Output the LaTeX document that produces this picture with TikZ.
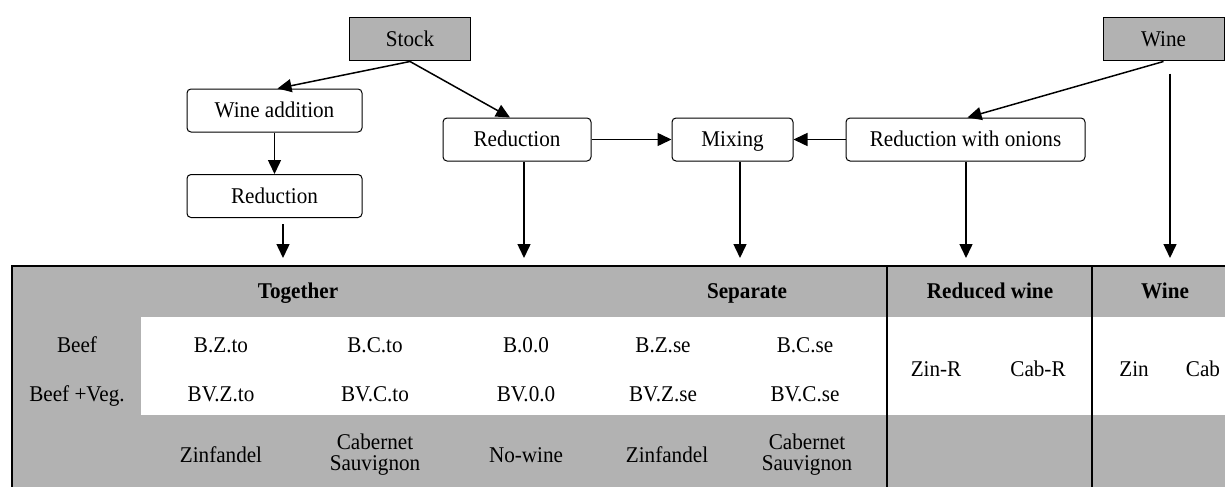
\documentclass[tikz,border=0pt]{standalone}
\usepackage{fontspec}
\setmainfont{Liberation Serif}[FakeStretch=0.94]
\usetikzlibrary{arrows.meta}
\definecolor{cellgray}{RGB}{178,178,178}

\begin{document}
\begin{tikzpicture}[x=1pt,y=-1pt,font=\fontsize{22.5}{19}\selectfont,
    srcbox/.style={draw,line width=1pt,fill=cellgray,minimum width=121pt,minimum height=43pt,inner sep=0pt,text height=17pt,text depth=3pt},
    procbox/.style={draw,line width=1pt,rounded corners=4pt,minimum height=43pt,inner sep=0pt,text height=17pt,text depth=3pt},
    cell/.style={inner sep=0pt,text height=17pt,text depth=3pt},
    cellii/.style={inner sep=0pt,align=center,font=\fontsize{22.5}{21}\selectfont},
    head/.style={cell,font=\fontsize{22.5}{19}\selectfont\bfseries},
    arr/.style={line width=1.5pt,-{Triangle[length=14pt,width=13pt]}},
    rule/.style={line width=2.2pt}]
    \useasboundingbox (0,0) rectangle (1225,487);
    \fill[cellgray] (12,266) rectangle (1225,487);
    \fill[white] (141,317) rectangle (1225,415);
    \draw[rule] (1225,266) -- (12,266) -- (12,487);
    \draw[rule] (887,266) -- (887,487);
    \draw[rule] (1092,266) -- (1092,487);

    \node[srcbox] (stock) at (410,39.5) {Stock};
    \node[srcbox] (wine) at (1163.5,39.5) {Wine};
    \node[procbox,minimum width=175pt] (wadd) at (274.5,110.5) {Wine addition};
    \node[procbox,minimum width=175pt] (redl) at (274.5,196) {Reduction};
    \node[procbox,minimum width=148pt] (redm) at (517,139.5) {Reduction};
    \node[procbox,minimum width=121pt] (mix) at (732.5,139.5) {Mixing};
    \node[procbox,minimum width=239pt] (rwo) at (965.5,139.5) {Reduction with onions};

    \coordinate (t1) at (283,258);
    \coordinate (t2) at (524,258);
    \coordinate (t3) at (740,258);
    \coordinate (t4) at (966,258);
    \coordinate (t5) at (1170,258);

    \draw[arr] (stock.south) -- ([xshift=3pt]wadd.north);
    \draw[arr] (stock.south) -- ([xshift=-7pt]redm.north);
    \draw[arr] (wadd) -- (redl);
    \draw[arr] (redm) -- (mix);
    \draw[arr] (rwo) -- (mix);
    \draw[arr] (wine.south) -- ([xshift=2pt]rwo.north);
    \draw[arr] (t1 |- redl.south) ++(0,6) -- (t1);
    \draw[arr] (t2 |- redm.south) -- (t2);
    \draw[arr] (t3 |- mix.south) -- (t3);
    \draw[arr] (t4 |- rwo.south) -- (t4);
    \draw[arr] (t5 |- wine.south) ++(0,12) -- (t5);

    \node[head] (tog) at (298,291) {Together};
    \node[head] (sep) at (747,291) {Separate};
    \node[head] (redw) at (990,291) {Reduced wine};
    \node[head] (winh) at (1165,291) {Wine};
    \node[cell] (beef) at (77,345) {Beef};
    \node[cell] (beefveg) at (77,394) {Beef +Veg.};
    \node[cell] (bzto) at (221,345) {B.Z.to};
    \node[cell] (bcto) at (375,345) {B.C.to};
    \node[cell] (boo) at (526,345) {B.0.0};
    \node[cell] (bzse) at (663,345) {B.Z.se};
    \node[cell] (bcse) at (805,345) {B.C.se};
    \node[cell] (bvzto) at (221,394) {BV.Z.to};
    \node[cell] (bvcto) at (375,394) {BV.C.to};
    \node[cell] (bvoo) at (526,394) {BV.0.0};
    \node[cell] (bvzse) at (663,394) {BV.Z.se};
    \node[cell] (bvcse) at (805,394) {BV.C.se};
    \node[cell] (zinto) at (221,455) {Zinfandel};
    \node[cellii] (cabto) at (375,455) {Cabernet\\Sauvignon};
    \node[cell] (nowine) at (526,455) {No-wine};
    \node[cell] (zinse) at (667,455) {Zinfandel};
    \node[cellii] (cabse) at (807,455) {Cabernet\\Sauvignon};
    \node[cell] (zinr) at (936,369) {Zin-R};
    \node[cell] (cabr) at (1038,369) {Cab-R};
    \node[cell] (zin) at (1134,369) {Zin};
    \node[cell] (cab) at (1203,369) {Cab};
\end{tikzpicture}
\end{document}
